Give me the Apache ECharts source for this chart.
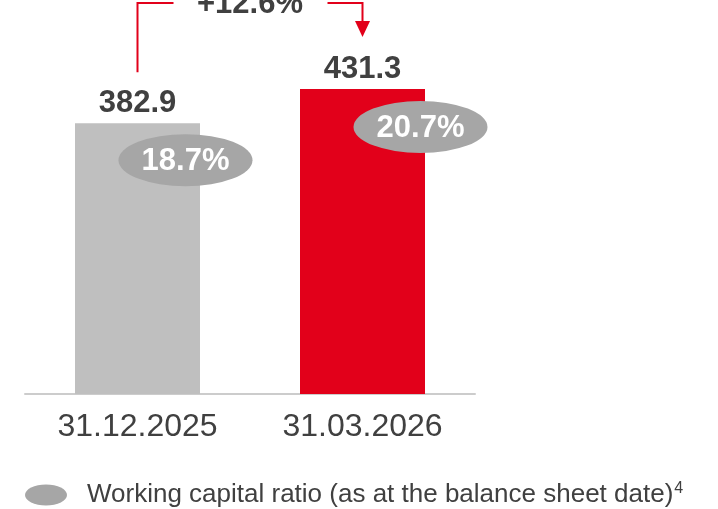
<!DOCTYPE html>
<html>
<head>
<meta charset="utf-8">
<script src="https://cdn.jsdelivr.net/npm/echarts@6/dist/echarts.min.js"></script>
<style>
  html, body { margin: 0; padding: 0; background: #fff; }
  #container { width: 718px; height: 509px; }
</style>
</head>
<body>
<div id="container"></div>
<script>
// data
var dates = ['31.12.2025', '31.03.2026'];
var capital = [382.9, 431.3];
var ratios = [18.7, 20.7];
var barColors = ['#bfbfbf', '#e2001a'];
var growthText = '+12.6%';
var ratioName = 'Working capital ratio (as at the balance sheet date)';

var FONT = 'Arial, "Liberation Sans", sans-serif';
var RED = '#e2001a';
var ELLIPSE = 'path://M0,50 A100,50 0 1,1 200,50 A100,50 0 1,1 0,50 Z';

var dom = document.getElementById('container');
var myChart = echarts.init(dom, null, { renderer: 'canvas' });

// ellipses sit a bit right of / below the top of each bar
var ellipseOffsets = [[48, 37], [58, 38]];

var option = {
  animation: false,
  grid: { left: 25, right: 243, top: 5, bottom: 115 },
  legend: {
    left: 25,
    top: 481,
    padding: 0,
    itemWidth: 48,
    itemHeight: 21,
    data: [{ name: ratioName, itemStyle: { color: '#a6a6a6' } }],
    formatter: function (name) {
      return '{t|' + name + '}{s|4}';
    },
    textStyle: {
      rich: {
        t: { fontFamily: FONT, fontSize: 26, color: '#404040', padding: [0, 0, 0, 12] },
        s: { fontFamily: FONT, fontSize: 16, color: '#404040', padding: [0, 0, 12, 1] }
      }
    }
  },
  xAxis: {
    type: 'category',
    data: dates,
    axisLine: { show: true, lineStyle: { color: '#cccccc', width: 2 } },
    axisTick: { show: false },
    axisLabel: { color: '#404040', fontFamily: FONT, fontSize: 32, margin: 17 }
  },
  yAxis: {
    type: 'value',
    min: 0,
    max: 550,
    show: false,
    splitLine: { show: false }
  },
  series: [
    {
      name: 'capital',
      type: 'bar',
      barWidth: 125,
      data: capital.map(function (v, i) {
        return { value: v, itemStyle: { color: barColors[i] } };
      }),
      label: {
        show: true,
        position: 'top',
        distance: 4,
        color: '#404040',
        fontFamily: FONT,
        fontWeight: 'bold',
        fontSize: 31,
        formatter: function (p) { return p.value.toFixed(1); }
      }
    },
    {
      name: ratioName,
      type: 'scatter',
      z: 3,
      symbol: ELLIPSE,
      symbolSize: [134, 52],
      symbolKeepAspect: false,
      itemStyle: { color: '#a6a6a6', opacity: 1 },
      data: capital.map(function (v, i) {
        return { value: v, symbolOffset: ellipseOffsets[i] };
      }),
      label: {
        show: true,
        position: 'inside',
        offset: [0, 1],
        color: '#ffffff',
        fontFamily: FONT,
        fontWeight: 'bold',
        fontSize: 31,
        formatter: function (p) { return ratios[p.dataIndex].toFixed(1) + '%'; }
      }
    }
  ]
};

myChart.setOption(option);

// growth arrow, placed from the bar tops
var p1 = myChart.convertToPixel({ seriesIndex: 0 }, [0, capital[0]]);
var p2 = myChart.convertToPixel({ seriesIndex: 0 }, [1, capital[1]]);
var topY = 3;
var midX = (p1[0] + p2[0]) / 2;
var startY = p1[1] - 51;
var tipY = p2[1] - 52;

myChart.setOption({
  graphic: [
    {
      type: 'polyline',
      shape: { points: [[p1[0], startY], [p1[0], topY], [p1[0] + 36, topY]] },
      style: { stroke: RED, lineWidth: 2, fill: null }
    },
    {
      type: 'polyline',
      shape: { points: [[p2[0] - 35, topY], [p2[0], topY], [p2[0], tipY - 14]] },
      style: { stroke: RED, lineWidth: 2, fill: null }
    },
    {
      type: 'polygon',
      shape: { points: [[p2[0] - 7.5, tipY - 16], [p2[0] + 7.5, tipY - 16], [p2[0], tipY]] },
      style: { fill: RED }
    },
    {
      type: 'text',
      x: midX,
      y: 4,
      style: {
        text: growthText,
        fill: '#404040',
        font: 'bold 31px ' + FONT,
        align: 'center',
        verticalAlign: 'middle'
      }
    }
  ]
});

window.addEventListener('resize', function () {
  myChart.resize();
});
</script>
</body>
</html>
